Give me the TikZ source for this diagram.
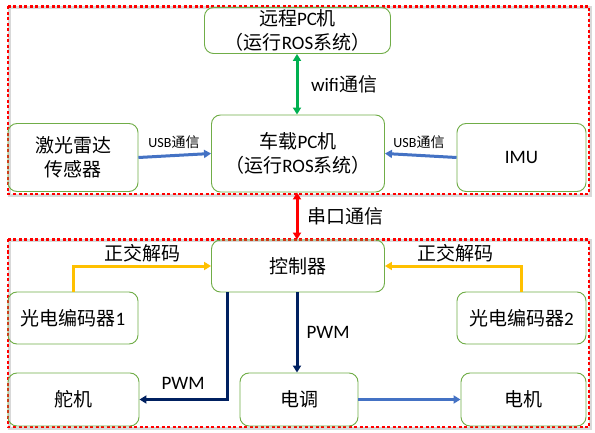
\documentclass[tikz,border=0pt]{standalone}
\usepackage{fontspec}
\setmainfont{Carlito}
\newfontfamily\cjk{Noto Sans CJK SC}
\usetikzlibrary{arrows.meta}
\definecolor{boxgreen}{HTML}{70AD47}
\definecolor{usbblue}{HTML}{4472C4}
\definecolor{wifigreen}{HTML}{00B050}
\definecolor{encyellow}{HTML}{FFC000}
\definecolor{pwmnavy}{HTML}{002060}
\newcommand\zh[1]{{\cjk #1}}
\begin{document}
\begin{tikzpicture}[x=1pt,y=-1pt,
  box/.style={draw=boxgreen, line width=0.9pt, rounded corners=9pt, inner sep=0pt, align=center, font=\fontsize{19}{24}\selectfont},
  lbl/.style={inner sep=0pt, font=\fontsize{19}{22}\selectfont},
  small/.style={inner sep=0pt, font=\fontsize{14}{16}\selectfont},
  conn/.style={line width=3pt, -{Triangle[length=7pt,width=8pt]}},
  dconn/.style={line width=3pt, {Triangle[length=7pt,width=8pt]}-{Triangle[length=7pt,width=8pt]}},
  frame/.style={draw=red, line width=2.6pt, dash pattern=on 3pt off 2.5pt},
  shadowline/.style={draw=gray!30, line width=3pt}]
\useasboundingbox (0,0) rectangle (595,433);
\fill[white] (0,0) rectangle (595,433);

% frames
\draw[shadowline] (9.5,8) rectangle (590.5,195.5);
\draw[shadowline] (9.5,241) rectangle (590.5,428.5);
\draw[frame] (8,6.5) rectangle (589,194);
\draw[frame] (8,239.5) rectangle (589,427);

% top nodes
\node[box, minimum width=186pt, minimum height=46pt] (remote) at (297.5,30.5)
  {\zh{远程}PC\zh{机}\\\zh{（运行}ROS\zh{系统）}};
\node[box, minimum width=173pt, minimum height=77pt] (car) at (298,153.5)
  {\zh{车载}PC\zh{机}\\\zh{（运行}ROS\zh{系统）}};
\node[box, minimum width=130pt, minimum height=68pt] (laser) at (73,157.5)
  {\zh{激光雷达}\\\zh{传感器}};
\node[box, minimum width=129pt, minimum height=68pt] (imu) at (521.5,157.5) {IMU};

% bottom nodes
\node[box, minimum width=173pt, minimum height=52pt] (ctrl) at (298,266) {\zh{控制器}};
\node[box, minimum width=130pt, minimum height=52pt] (enc1) at (73,318) {\zh{光电编码器}1};
\node[box, minimum width=129pt, minimum height=52pt] (enc2) at (521.5,318) {\zh{光电编码器}2};
\node[box, minimum width=131pt, minimum height=53pt] (servo) at (73.5,399.5) {\zh{舵机}};
\node[box, minimum width=118pt, minimum height=53pt] (esc) at (299,399.5) {\zh{电调}};
\node[box, minimum width=125pt, minimum height=53pt] (motor) at (523.5,399.5) {\zh{电机}};

% connectors
\draw[conn, usbblue] (laser.east) -- (car.west);
\draw[conn, usbblue] (imu.west) -- (car.east);
\draw[dconn, wifigreen] (remote.south -| 297,0) -- (car.north -| 297,0);
\draw[dconn, red] (car.south -| 297,0) -- (ctrl.north -| 297,0);
\draw[conn, encyellow] (enc1.north) |- (ctrl.west);
\draw[conn, encyellow] (enc2.north) |- (ctrl.east);
\draw[conn, pwmnavy] (ctrl.south -| 297,0) -- (esc.north -| 297,0);
\coordinate (pwmstart) at ([xshift=16pt]ctrl.south west);
\draw[conn, pwmnavy] (pwmstart) |- (servo.east);
\draw[conn, usbblue] (esc.east) -- (motor.west);

% labels
\node[small] (usbl) at (174,142) {USB\zh{通信}};
\node[small] (usbr) at (419,142) {USB\zh{通信}};
\node[lbl] (wifi) at (344,84) {wifi\zh{通信}};
\node[lbl] (serial) at (345,216) {\zh{串口通信}};
\node[lbl] (qdl) at (142,253) {\zh{正交解码}};
\node[lbl] (qdr) at (455,253) {\zh{正交解码}};
\node[lbl] (pwm1) at (328,332) {PWM};
\node[lbl] (pwm2) at (183,383) {PWM};
\end{tikzpicture}
\end{document}
